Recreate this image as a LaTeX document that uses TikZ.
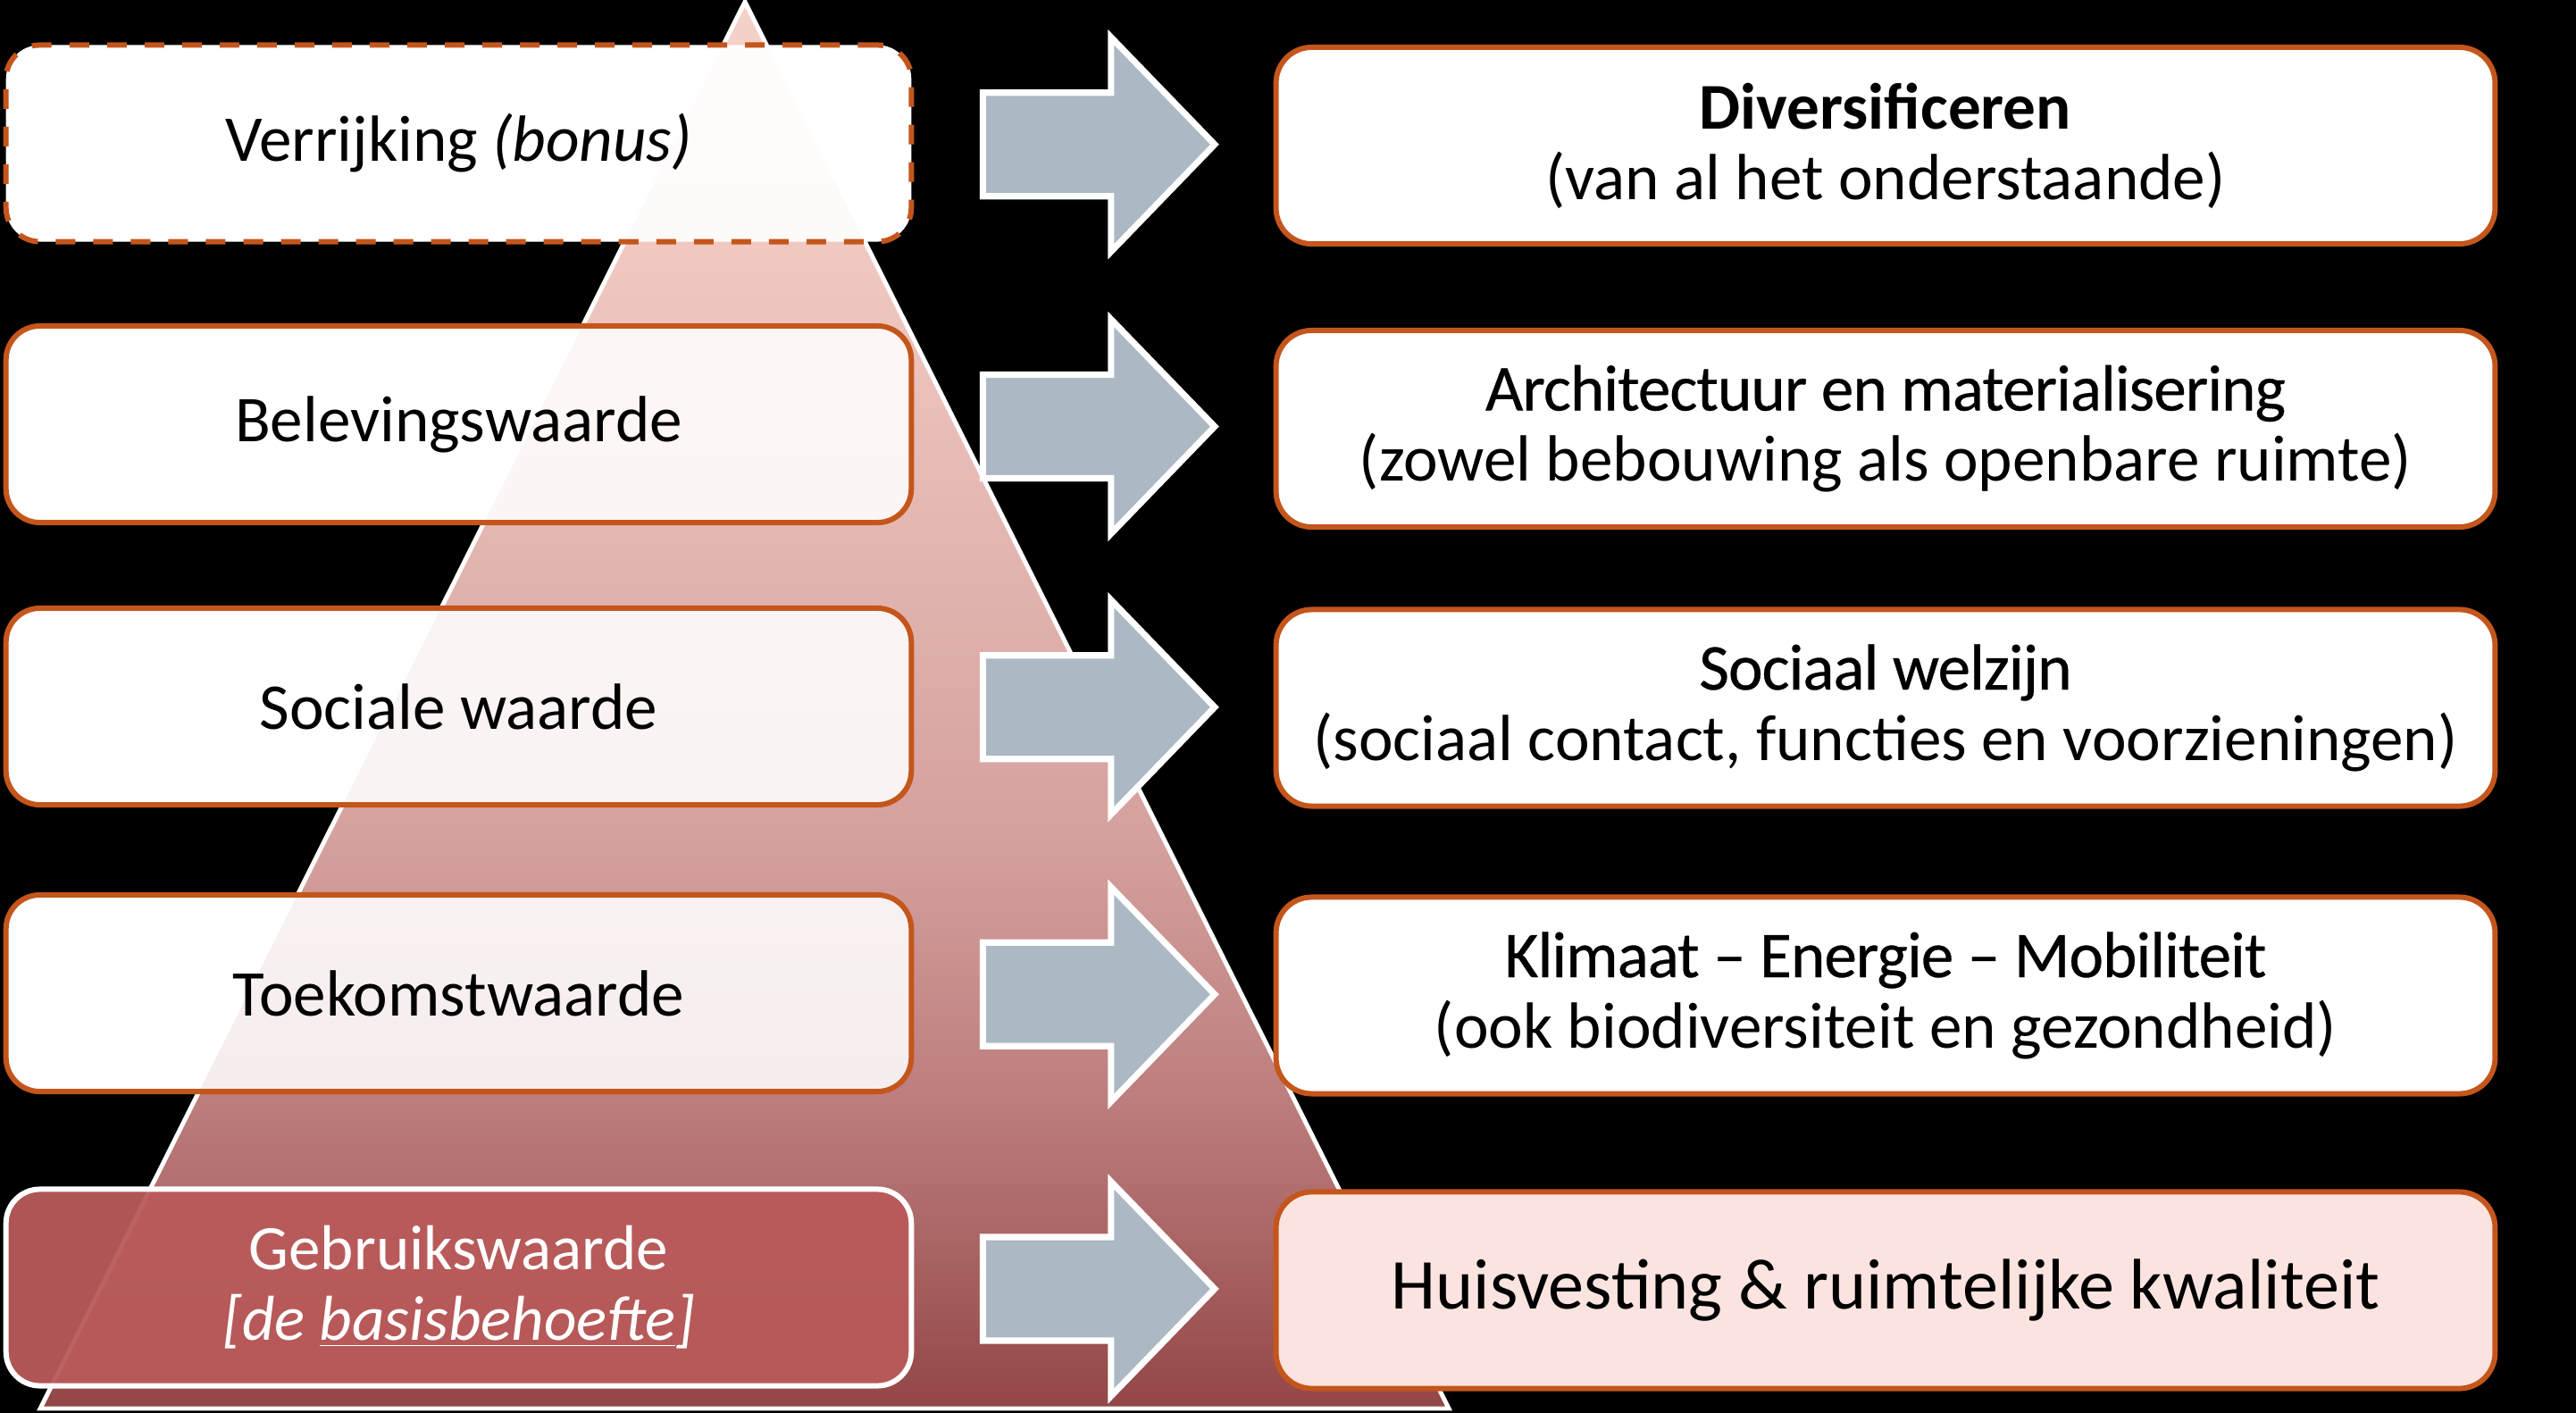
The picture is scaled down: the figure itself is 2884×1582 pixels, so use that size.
\documentclass[tikz,border=0pt]{standalone}
\usepackage{fontspec}
\setmainfont{Carlito}
\usetikzlibrary{calc}
\definecolor{orng}{RGB}{196,86,28}
\definecolor{arrowgray}{RGB}{172,184,195}
\definecolor{basefill}{RGB}{185,90,90}
\definecolor{huisfill}{RGB}{251,228,223}
\definecolor{pA}{RGB}{147,70,70}
\definecolor{pB}{RGB}{187,123,123}
\definecolor{pC}{RGB}{212,160,157}
\definecolor{pD}{RGB}{226,179,174}
\definecolor{pE}{RGB}{238,197,190}
\definecolor{pF}{RGB}{244,210,201}
\pgfdeclareverticalshading{pyrshade}{100bp}{color(0bp)=(pA); color(25bp)=(pA); color(35.4bp)=(pB); color(45bp)=(pC); color(54.5bp)=(pD); color(64bp)=(pE); color(75bp)=(pF); color(100bp)=(pF)}
\newcommand\rowhead[1]{{\addfontfeatures{LetterSpace=-1.3,FakeBold=0.4}#1}}
\tikzset{
  boxtext/.style={font=\fontsize{20.8}{22.5}\selectfont},
  tint/.style={path picture={\path[shading=pyrshade, opacity=#1] (apex) -- (br) -- (bl) -- cycle;}},
  lbox/.style={boxtext, draw=orng, line width=1.7pt, fill=white, tint=0.13,
    rounded corners=0.38cm, minimum width=10.13cm, minimum height=2.2cm, inner sep=0pt, align=center},
  rbox/.style={boxtext, draw=orng, line width=1.7pt, fill=white,
    rounded corners=0.4cm, minimum width=13.64cm, minimum height=2.2cm, inner sep=0pt, align=center},
  blockarrow/.style={fill=arrowgray, draw=white, line width=2pt, line join=miter},
  pyrline/.style={draw=white, line width=1.4pt, line join=miter},
}
\begin{document}
\begin{tikzpicture}[x=0.01cm, y=-0.01cm]
\fill[black] (0,0) rectangle (2884,1582);
\useasboundingbox (0,0) rectangle (2884,1582);
% pyramid
\coordinate (apex) at (834,2);
\coordinate (br) at (1622,1577);
\coordinate (bl) at (45,1577);
\path[shading=pyrshade] (apex) -- (br) -- (bl) -- cycle;
\path[pyrline] (apex) -- (br) -- (bl) -- cycle;
% left boxes
\node[lbox, dash pattern=on 0.22cm off 0.2cm, tint=0.07] (L1) at (513.5,160.5) {Verrijking \textit{(bonus)}};
\node[lbox] (L2) at (513.5,475) {Belevingswaarde};
\node[lbox] (L3) at (513.5,791) {Sociale waarde};
\node[lbox] (L4) at (513.5,1112) {Toekomstwaarde};
\node[lbox, draw=white, fill=basefill, fill opacity=0.95, text opacity=1, text=white,
  font=\fontsize{20.2}{22.5}\selectfont, path picture={}] (L5) at (513.5,1441.5) {Gebruikswaarde\\\textit{[de \underline{basisbehoefte}]}};
% right boxes
\node[rbox] (R1) at (2111,163) {\textbf{Diversificeren}\\(van al het onderstaande)};
\node[rbox] (R2) at (2111,480) {\rowhead{Architectuur en materialisering}\\(zowel bebouwing als openbare ruimte)};
\node[rbox] (R3) at (2111,792.5) {\rowhead{Sociaal welzijn}\\(sociaal contact, functies en voorzieningen)};
\node[rbox] (R4) at (2111,1114.5) {\rowhead{Klimaat – Energie – Mobiliteit}\\(ook biodiversiteit en gezondheid)};
\node[rbox, fill=huisfill, font=\fontsize{22.8}{24.6}\selectfont] (R5) at (2111,1444.5) {Huisvesting \& ruimtelijke kwaliteit};
% block arrows
\foreach \i in {1,...,5}{
  \path (L\i.east) -- (R\i.west) coordinate[pos=0.5] (A\i);
  \draw[blockarrow, shift={(A\i)}] (-124,-58) -- (19.5,-58) -- (19.5,-120) -- (135.5,0) -- (19.5,120) -- (19.5,58) -- (-124,58) -- cycle;
}
\end{tikzpicture}
\end{document}
